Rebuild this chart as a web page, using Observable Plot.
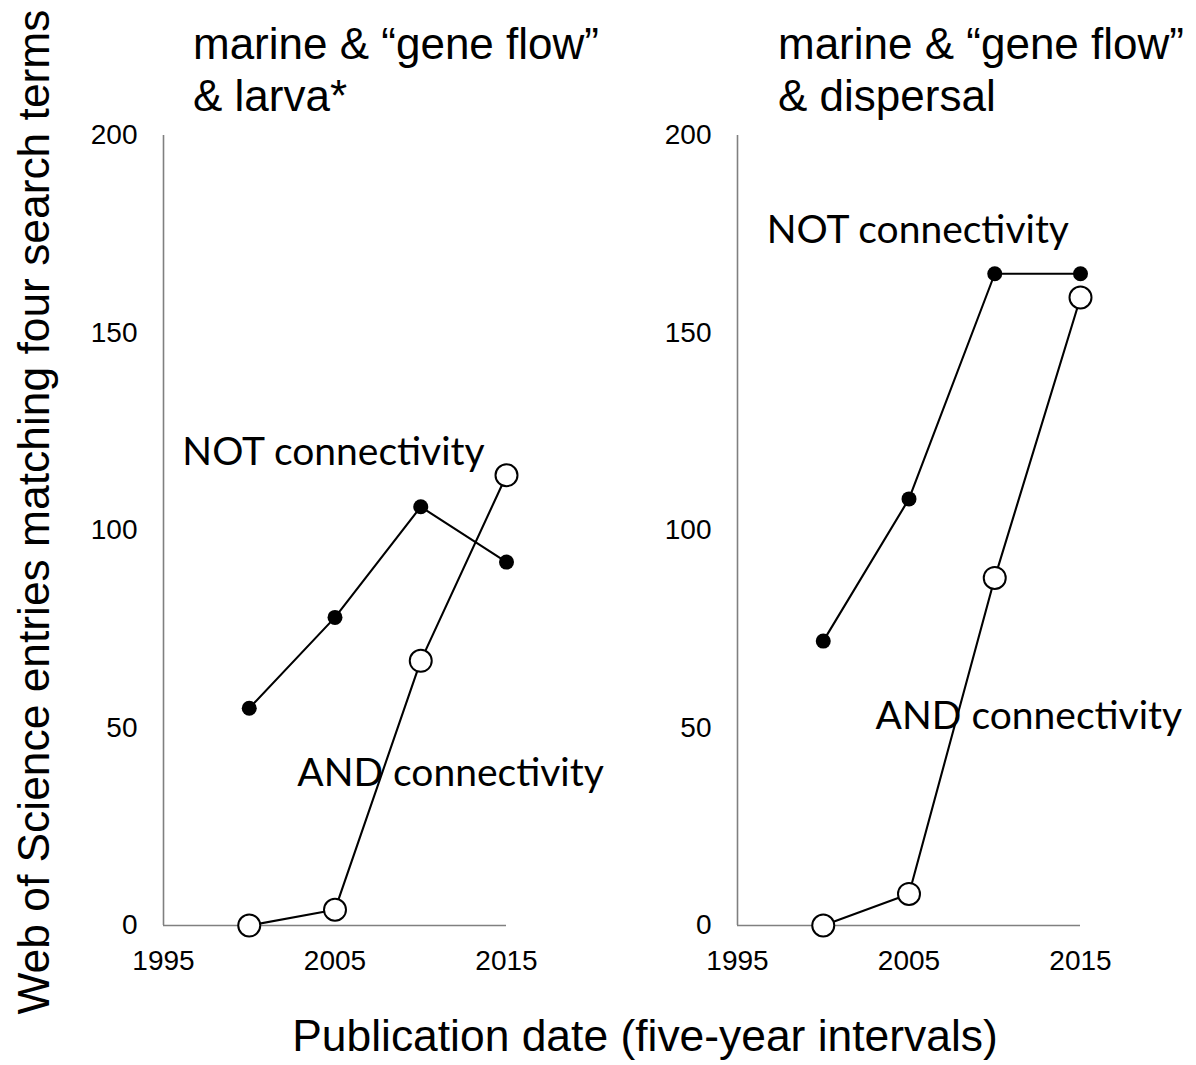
<!DOCTYPE html>
<html>
<head>
<meta charset="utf-8">
<script src="https://cdn.jsdelivr.net/npm/d3@7"></script>
<script src="https://cdn.jsdelivr.net/npm/@observablehq/plot@0.6"></script>
<style>
  html, body { margin: 0; padding: 0; background: #fff; }
  #root { position: relative; width: 1196px; height: 1065px; background: #fff; overflow: hidden; }
  .panel { position: absolute; }
  #overlay { position: absolute; left: 0; top: 0; pointer-events: none; }
</style>
</head>
<body>
<div id="root"></div>
<script>
// ---- data ----
const years = [2000, 2005, 2010, 2015];
const larvaNot = [55, 78, 106, 92];
const larvaAnd = [0, 4, 67, 114];
const dispersalNot = [72, 108, 165, 165];
const dispersalAnd = [0, 8, 88, 159];
const xTicks = [1995, 2005, 2015];
const yTicks = [0, 50, 100, 150, 200];
const titles = [
  ["marine & \u201Cgene flow\u201D", "& larva*"],
  ["marine & \u201Cgene flow\u201D", "& dispersal"]
];
const yLabel = "Web of Science entries matching four search terms";
const xLabel = "Publication date (five-year intervals)";
const labelsLarva = [
  {text: "NOT connectivity", x: 1996.1, y: 119.7},
  {text: "AND connectivity", x: 2002.8, y: 38.5}
];
const labelsDispersal = [
  {text: "NOT connectivity", x: 1996.7, y: 176},
  {text: "AND connectivity", x: 2003.05, y: 53}
];

const toRows = vals => years.map((yr, i) => ({year: yr, value: vals[i]}));

function panel(notVals, andVals, labels) {
  const notRows = toRows(notVals);
  const andRows = toRows(andVals);
  return Plot.plot({
    width: 480,
    height: 885,
    marginLeft: 103,
    marginRight: 34,
    marginTop: 35,
    marginBottom: 60,
    style: {fontFamily: "'Liberation Sans', Arial, sans-serif", fontSize: "28px", color: "#000", background: "transparent", overflow: "visible"},
    x: {domain: [1995, 2015], ticks: xTicks, tickFormat: d => String(d), tickSize: 0, tickPadding: 25, label: null},
    y: {domain: [0, 200], ticks: yTicks, tickSize: 0, tickPadding: 26, label: null},
    marks: [
      Plot.ruleY([0], {stroke: "#808080", strokeWidth: 1.6}),
      Plot.ruleX([1995], {stroke: "#808080", strokeWidth: 1.6}),
      Plot.line(notRows, {x: "year", y: "value", stroke: "#000", strokeWidth: 2.1}),
      Plot.line(andRows, {x: "year", y: "value", stroke: "#000", strokeWidth: 2.1}),
      Plot.dot(notRows, {x: "year", y: "value", r: 7.5, fill: "#000", stroke: "none"}),
      Plot.dot(andRows, {x: "year", y: "value", r: 11, fill: "#fff", stroke: "#000", strokeWidth: 2}),
      Plot.text(labels, {x: "x", y: "y", text: "text", textAnchor: "start", fontSize: 39, fontFamily: "Lato, 'Open Sans', sans-serif", fill: "#000"})
    ]
  });
}

const root = document.getElementById("root");

const p1 = panel(larvaNot, larvaAnd, labelsLarva);
p1.classList.add("panel");
p1.style.left = "60px";
p1.style.top = "100px";
root.appendChild(p1);

const p2 = panel(dispersalNot, dispersalAnd, labelsDispersal);
p2.classList.add("panel");
p2.style.left = "634px";
p2.style.top = "100px";
root.appendChild(p2);

// overlay text: titles and axis titles
const svg = d3.select(root).append("svg")
  .attr("id", "overlay")
  .attr("width", 1196).attr("height", 1065)
  .style("font-family", "'Liberation Sans', Arial, sans-serif");

const titleX = [193, 778];
titles.forEach((lines, i) => {
  lines.forEach((line, j) => {
    svg.append("text")
      .attr("x", titleX[i])
      .attr("y", 59 + j * 52)
      .attr("font-size", 44)
      .attr("fill", "#000")
      .text(line);
  });
});

svg.append("text")
  .attr("transform", "translate(49,512) rotate(-90)")
  .attr("text-anchor", "middle")
  .attr("font-size", 44)
  .attr("textLength", 1005)
  .attr("lengthAdjust", "spacingAndGlyphs")
  .attr("fill", "#000")
  .text(yLabel);

svg.append("text")
  .attr("x", 645)
  .attr("y", 1051)
  .attr("text-anchor", "middle")
  .attr("font-size", 44.4)
  .attr("fill", "#000")
  .text(xLabel);
</script>
</body>
</html>
